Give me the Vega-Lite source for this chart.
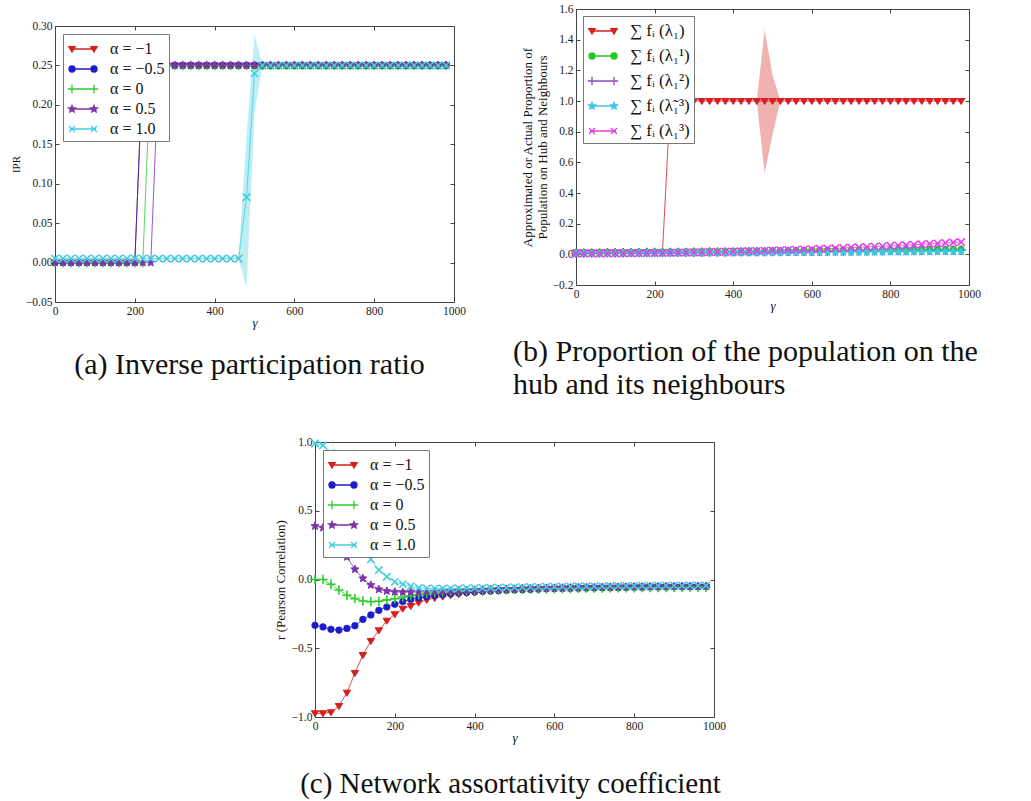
{
"$schema": "https://vega.github.io/schema/vega-lite/v6.json",
"background": "white",
"padding": {"left": 9, "top": 2, "right": 0, "bottom": 0},
"config": {
  "view": {"stroke": "#444", "strokeWidth": 1},
  "font": "Liberation Serif",
  "axis": {"grid": false, "domain": false, "tickSize": -4, "tickColor": "#444", "tickWidth": 1, "labelPadding": 7, "labelFont": "Liberation Serif", "labelFontSize": 11.5, "labelColor": "#222", "labelFlush": false, "labelOverlap": false, "titleFont": "Liberation Serif", "titleFontWeight": "normal", "titleColor": "#111", "titleFontSize": 12},
  "legend": {"strokeColor": "#777", "fillColor": "white", "padding": 4, "cornerRadius": 0, "labelFont": "Liberation Serif, DejaVu Serif", "labelFontSize": 16, "labelColor": "#111", "symbolSize": 400, "symbolOffset": 5, "labelOffset": 16, "rowPadding": 1, "orient": "top-left", "offset": 8, "direction": "vertical", "symbolOpacity": 1, "symbolStrokeWidth": 1.3},
  "title": {"font": "Liberation Serif", "fontSize": 30, "fontWeight": "normal", "color": "#111"}
},
"datasets": {
  "bandA": [{"g":460,"lo":0.005,"hi":0.005},{"g":480,"lo":-0.032,"hi":0.16},{"g":500,"lo":0.19,"hi":0.289},{"g":520,"lo":0.25,"hi":0.25}],
  "bandB": [{"g":460,"lo":1,"hi":1},{"g":480,"lo":0.53,"hi":1.464},{"g":500,"lo":0.78,"hi":1.17},{"g":520,"lo":1,"hi":1}],
  "ipr": [
    {"g":0,"s1":0,"s2":0,"s3":0,"s4":0,"s5":0.005},
    {"g":20,"s1":0,"s2":0,"s3":0,"s4":0,"s5":0.005},
    {"g":40,"s1":0,"s2":0,"s3":0,"s4":0,"s5":0.005},
    {"g":60,"s1":0,"s2":0,"s3":0,"s4":0,"s5":0.005},
    {"g":80,"s1":0,"s2":0,"s3":0,"s4":0,"s5":0.005},
    {"g":100,"s1":0,"s2":0,"s3":0,"s4":0,"s5":0.005},
    {"g":120,"s1":0,"s2":0,"s3":0,"s4":0,"s5":0.005},
    {"g":140,"s1":0,"s2":0,"s3":0,"s4":0,"s5":0.005},
    {"g":160,"s1":0,"s2":0,"s3":0,"s4":0,"s5":0.005},
    {"g":180,"s1":0,"s2":0,"s3":0,"s4":0,"s5":0.005},
    {"g":200,"s1":0,"s2":0,"s3":0,"s4":0,"s5":0.005},
    {"g":220,"s1":0.25,"s2":0.25,"s3":0,"s4":0,"s5":0.005},
    {"g":240,"s1":0.25,"s2":0.25,"s3":0.25,"s4":0,"s5":0.005},
    {"g":260,"s1":0.25,"s2":0.25,"s3":0.25,"s4":0.25,"s5":0.005},
    {"g":280,"s1":0.25,"s2":0.25,"s3":0.25,"s4":0.25,"s5":0.005},
    {"g":300,"s1":0.25,"s2":0.25,"s3":0.25,"s4":0.25,"s5":0.005},
    {"g":320,"s1":0.25,"s2":0.25,"s3":0.25,"s4":0.25,"s5":0.005},
    {"g":340,"s1":0.25,"s2":0.25,"s3":0.25,"s4":0.25,"s5":0.005},
    {"g":360,"s1":0.25,"s2":0.25,"s3":0.25,"s4":0.25,"s5":0.005},
    {"g":380,"s1":0.25,"s2":0.25,"s3":0.25,"s4":0.25,"s5":0.005},
    {"g":400,"s1":0.25,"s2":0.25,"s3":0.25,"s4":0.25,"s5":0.005},
    {"g":420,"s1":0.25,"s2":0.25,"s3":0.25,"s4":0.25,"s5":0.005},
    {"g":440,"s1":0.25,"s2":0.25,"s3":0.25,"s4":0.25,"s5":0.005},
    {"g":460,"s1":0.25,"s2":0.25,"s3":0.25,"s4":0.25,"s5":0.005},
    {"g":480,"s1":0.25,"s2":0.25,"s3":0.25,"s4":0.25,"s5":0.083},
    {"g":500,"s1":0.25,"s2":0.25,"s3":0.25,"s4":0.25,"s5":0.24},
    {"g":520,"s1":0.25,"s2":0.25,"s3":0.25,"s4":0.25,"s5":0.25},
    {"g":540,"s1":0.25,"s2":0.25,"s3":0.25,"s4":0.25,"s5":0.25},
    {"g":560,"s1":0.25,"s2":0.25,"s3":0.25,"s4":0.25,"s5":0.25},
    {"g":580,"s1":0.25,"s2":0.25,"s3":0.25,"s4":0.25,"s5":0.25},
    {"g":600,"s1":0.25,"s2":0.25,"s3":0.25,"s4":0.25,"s5":0.25},
    {"g":620,"s1":0.25,"s2":0.25,"s3":0.25,"s4":0.25,"s5":0.25},
    {"g":640,"s1":0.25,"s2":0.25,"s3":0.25,"s4":0.25,"s5":0.25},
    {"g":660,"s1":0.25,"s2":0.25,"s3":0.25,"s4":0.25,"s5":0.25},
    {"g":680,"s1":0.25,"s2":0.25,"s3":0.25,"s4":0.25,"s5":0.25},
    {"g":700,"s1":0.25,"s2":0.25,"s3":0.25,"s4":0.25,"s5":0.25},
    {"g":720,"s1":0.25,"s2":0.25,"s3":0.25,"s4":0.25,"s5":0.25},
    {"g":740,"s1":0.25,"s2":0.25,"s3":0.25,"s4":0.25,"s5":0.25},
    {"g":760,"s1":0.25,"s2":0.25,"s3":0.25,"s4":0.25,"s5":0.25},
    {"g":780,"s1":0.25,"s2":0.25,"s3":0.25,"s4":0.25,"s5":0.25},
    {"g":800,"s1":0.25,"s2":0.25,"s3":0.25,"s4":0.25,"s5":0.25},
    {"g":820,"s1":0.25,"s2":0.25,"s3":0.25,"s4":0.25,"s5":0.25},
    {"g":840,"s1":0.25,"s2":0.25,"s3":0.25,"s4":0.25,"s5":0.25},
    {"g":860,"s1":0.25,"s2":0.25,"s3":0.25,"s4":0.25,"s5":0.25},
    {"g":880,"s1":0.25,"s2":0.25,"s3":0.25,"s4":0.25,"s5":0.25},
    {"g":900,"s1":0.25,"s2":0.25,"s3":0.25,"s4":0.25,"s5":0.25},
    {"g":920,"s1":0.25,"s2":0.25,"s3":0.25,"s4":0.25,"s5":0.25},
    {"g":940,"s1":0.25,"s2":0.25,"s3":0.25,"s4":0.25,"s5":0.25},
    {"g":960,"s1":0.25,"s2":0.25,"s3":0.25,"s4":0.25,"s5":0.25},
    {"g":980,"s1":0.25,"s2":0.25,"s3":0.25,"s4":0.25,"s5":0.25}
  ],
  "prop": [
    {"g":0,"s1":0.012,"s2":0.010,"s3":0.008,"s4":0.005,"s5":0.006},
    {"g":20,"s1":0.012,"s2":0.010,"s3":0.008,"s4":0.005,"s5":0.006},
    {"g":40,"s1":0.012,"s2":0.011,"s3":0.009,"s4":0.006,"s5":0.006},
    {"g":60,"s1":0.012,"s2":0.011,"s3":0.009,"s4":0.006,"s5":0.006},
    {"g":80,"s1":0.012,"s2":0.012,"s3":0.010,"s4":0.006,"s5":0.0065},
    {"g":100,"s1":0.012,"s2":0.012,"s3":0.010,"s4":0.006,"s5":0.0068},
    {"g":120,"s1":0.012,"s2":0.013,"s3":0.010,"s4":0.007,"s5":0.0071},
    {"g":140,"s1":0.012,"s2":0.013,"s3":0.011,"s4":0.007,"s5":0.0075},
    {"g":160,"s1":0.012,"s2":0.014,"s3":0.011,"s4":0.007,"s5":0.008},
    {"g":180,"s1":0.012,"s2":0.014,"s3":0.012,"s4":0.007,"s5":0.0085},
    {"g":200,"s1":0.012,"s2":0.015,"s3":0.012,"s4":0.008,"s5":0.0091},
    {"g":220,"s1":0.012,"s2":0.015,"s3":0.012,"s4":0.008,"s5":0.0097},
    {"g":240,"s1":1.0,"s2":0.016,"s3":0.013,"s4":0.008,"s5":0.0104},
    {"g":260,"s1":1.0,"s2":0.016,"s3":0.013,"s4":0.009,"s5":0.0112},
    {"g":280,"s1":1.0,"s2":0.017,"s3":0.013,"s4":0.009,"s5":0.012},
    {"g":300,"s1":1.0,"s2":0.017,"s3":0.014,"s4":0.009,"s5":0.0129},
    {"g":320,"s1":1.0,"s2":0.018,"s3":0.014,"s4":0.009,"s5":0.0139},
    {"g":340,"s1":1.0,"s2":0.018,"s3":0.015,"s4":0.010,"s5":0.0149},
    {"g":360,"s1":1.0,"s2":0.018,"s3":0.015,"s4":0.010,"s5":0.016},
    {"g":380,"s1":1.0,"s2":0.019,"s3":0.015,"s4":0.010,"s5":0.0171},
    {"g":400,"s1":1.0,"s2":0.019,"s3":0.016,"s4":0.010,"s5":0.0183},
    {"g":420,"s1":1.0,"s2":0.020,"s3":0.016,"s4":0.011,"s5":0.0196},
    {"g":440,"s1":1.0,"s2":0.020,"s3":0.017,"s4":0.011,"s5":0.0209},
    {"g":460,"s1":1.0,"s2":0.021,"s3":0.017,"s4":0.011,"s5":0.0223},
    {"g":480,"s1":1.0,"s2":0.021,"s3":0.017,"s4":0.011,"s5":0.0238},
    {"g":500,"s1":1.0,"s2":0.022,"s3":0.018,"s4":0.012,"s5":0.0253},
    {"g":520,"s1":1.0,"s2":0.022,"s3":0.018,"s4":0.012,"s5":0.0268},
    {"g":540,"s1":1.0,"s2":0.023,"s3":0.019,"s4":0.012,"s5":0.0285},
    {"g":560,"s1":1.0,"s2":0.023,"s3":0.019,"s4":0.013,"s5":0.0302},
    {"g":580,"s1":1.0,"s2":0.024,"s3":0.019,"s4":0.013,"s5":0.0319},
    {"g":600,"s1":1.0,"s2":0.024,"s3":0.020,"s4":0.013,"s5":0.0337},
    {"g":620,"s1":1.0,"s2":0.025,"s3":0.020,"s4":0.013,"s5":0.0356},
    {"g":640,"s1":1.0,"s2":0.025,"s3":0.020,"s4":0.014,"s5":0.0376},
    {"g":660,"s1":1.0,"s2":0.026,"s3":0.021,"s4":0.014,"s5":0.0396},
    {"g":680,"s1":1.0,"s2":0.026,"s3":0.021,"s4":0.014,"s5":0.0416},
    {"g":700,"s1":1.0,"s2":0.026,"s3":0.022,"s4":0.014,"s5":0.0438},
    {"g":720,"s1":1.0,"s2":0.027,"s3":0.022,"s4":0.015,"s5":0.0459},
    {"g":740,"s1":1.0,"s2":0.027,"s3":0.022,"s4":0.015,"s5":0.0482},
    {"g":760,"s1":1.0,"s2":0.028,"s3":0.023,"s4":0.015,"s5":0.0505},
    {"g":780,"s1":1.0,"s2":0.028,"s3":0.023,"s4":0.016,"s5":0.0529},
    {"g":800,"s1":1.0,"s2":0.029,"s3":0.024,"s4":0.016,"s5":0.0553},
    {"g":820,"s1":1.0,"s2":0.029,"s3":0.024,"s4":0.016,"s5":0.0578},
    {"g":840,"s1":1.0,"s2":0.030,"s3":0.024,"s4":0.016,"s5":0.0604},
    {"g":860,"s1":1.0,"s2":0.030,"s3":0.025,"s4":0.017,"s5":0.063},
    {"g":880,"s1":1.0,"s2":0.031,"s3":0.025,"s4":0.017,"s5":0.0657},
    {"g":900,"s1":1.0,"s2":0.031,"s3":0.026,"s4":0.017,"s5":0.0684},
    {"g":920,"s1":1.0,"s2":0.032,"s3":0.026,"s4":0.017,"s5":0.0712},
    {"g":940,"s1":1.0,"s2":0.032,"s3":0.026,"s4":0.018,"s5":0.0741},
    {"g":960,"s1":1.0,"s2":0.033,"s3":0.027,"s4":0.018,"s5":0.077},
    {"g":980,"s1":1.0,"s2":0.033,"s3":0.027,"s4":0.018,"s5":0.08}
  ],
  "assort": [
    {"g":0,"s1":-0.973,"s2":-0.333,"s3":0,"s4":0.389,"s5":0.99},
    {"g":20,"s1":-0.973,"s2":-0.345,"s3":0,"s4":0.377,"s5":0.976},
    {"g":40,"s1":-0.966,"s2":-0.362,"s3":-0.035,"s4":0.33,"s5":0.92},
    {"g":60,"s1":-0.92,"s2":-0.368,"s3":-0.076,"s4":0.26,"s5":0.8},
    {"g":80,"s1":-0.823,"s2":-0.356,"s3":-0.115,"s4":0.164,"s5":0.62},
    {"g":100,"s1":-0.68,"s2":-0.336,"s3":-0.139,"s4":0.074,"s5":0.43},
    {"g":120,"s1":-0.55,"s2":-0.29,"s3":-0.156,"s4":0.008,"s5":0.27},
    {"g":140,"s1":-0.447,"s2":-0.258,"s3":-0.161,"s4":-0.04,"s5":0.147},
    {"g":160,"s1":-0.37,"s2":-0.224,"s3":-0.158,"s4":-0.072,"s5":0.069},
    {"g":180,"s1":-0.3,"s2":-0.2,"s3":-0.148,"s4":-0.084,"s5":0.02},
    {"g":200,"s1":-0.253,"s2":-0.18,"s3":-0.14,"s4":-0.09,"s5":-0.018},
    {"g":220,"s1":-0.212,"s2":-0.16,"s3":-0.128,"s4":-0.092,"s5":-0.035},
    {"g":240,"s1":-0.193,"s2":-0.145,"s3":-0.118,"s4":-0.092,"s5":-0.05},
    {"g":260,"s1":-0.168,"s2":-0.133,"s3":-0.11,"s4":-0.091,"s5":-0.06},
    {"g":280,"s1":-0.148,"s2":-0.124,"s3":-0.103,"s4":-0.09,"s5":-0.065},
    {"g":300,"s1":-0.135,"s2":-0.116,"s3":-0.097,"s4":-0.088,"s5":-0.066},
    {"g":320,"s1":-0.124,"s2":-0.109,"s3":-0.092,"s4":-0.086,"s5":-0.066},
    {"g":340,"s1":-0.115,"s2":-0.103,"s3":-0.088,"s4":-0.084,"s5":-0.065},
    {"g":360,"s1":-0.107,"s2":-0.098,"s3":-0.085,"s4":-0.082,"s5":-0.064},
    {"g":380,"s1":-0.1,"s2":-0.094,"s3":-0.082,"s4":-0.08,"s5":-0.063},
    {"g":400,"s1":-0.095,"s2":-0.09,"s3":-0.08,"s4":-0.078,"s5":-0.062},
    {"g":420,"s1":-0.09,"s2":-0.087,"s3":-0.078,"s4":-0.076,"s5":-0.061},
    {"g":440,"s1":-0.086,"s2":-0.084,"s3":-0.076,"s4":-0.074,"s5":-0.06},
    {"g":460,"s1":-0.082,"s2":-0.081,"s3":-0.074,"s4":-0.072,"s5":-0.059},
    {"g":480,"s1":-0.079,"s2":-0.078,"s3":-0.073,"s4":-0.07,"s5":-0.058},
    {"g":500,"s1":-0.076,"s2":-0.076,"s3":-0.072,"s4":-0.069,"s5":-0.057},
    {"g":520,"s1":-0.074,"s2":-0.074,"s3":-0.071,"s4":-0.067,"s5":-0.056},
    {"g":540,"s1":-0.072,"s2":-0.072,"s3":-0.07,"s4":-0.066,"s5":-0.055},
    {"g":560,"s1":-0.07,"s2":-0.07,"s3":-0.069,"s4":-0.064,"s5":-0.054},
    {"g":580,"s1":-0.068,"s2":-0.068,"s3":-0.068,"s4":-0.063,"s5":-0.053},
    {"g":600,"s1":-0.066,"s2":-0.066,"s3":-0.067,"s4":-0.062,"s5":-0.052},
    {"g":620,"s1":-0.065,"s2":-0.065,"s3":-0.066,"s4":-0.061,"s5":-0.051},
    {"g":640,"s1":-0.064,"s2":-0.064,"s3":-0.065,"s4":-0.06,"s5":-0.051},
    {"g":660,"s1":-0.063,"s2":-0.063,"s3":-0.064,"s4":-0.059,"s5":-0.05},
    {"g":680,"s1":-0.062,"s2":-0.062,"s3":-0.063,"s4":-0.058,"s5":-0.05},
    {"g":700,"s1":-0.061,"s2":-0.061,"s3":-0.063,"s4":-0.057,"s5":-0.049},
    {"g":720,"s1":-0.06,"s2":-0.06,"s3":-0.062,"s4":-0.056,"s5":-0.049},
    {"g":740,"s1":-0.059,"s2":-0.059,"s3":-0.061,"s4":-0.055,"s5":-0.048},
    {"g":760,"s1":-0.058,"s2":-0.058,"s3":-0.061,"s4":-0.055,"s5":-0.048},
    {"g":780,"s1":-0.057,"s2":-0.057,"s3":-0.06,"s4":-0.054,"s5":-0.047},
    {"g":800,"s1":-0.057,"s2":-0.056,"s3":-0.06,"s4":-0.053,"s5":-0.047},
    {"g":820,"s1":-0.056,"s2":-0.056,"s3":-0.059,"s4":-0.053,"s5":-0.046},
    {"g":840,"s1":-0.055,"s2":-0.055,"s3":-0.059,"s4":-0.052,"s5":-0.046},
    {"g":860,"s1":-0.055,"s2":-0.054,"s3":-0.058,"s4":-0.052,"s5":-0.046},
    {"g":880,"s1":-0.054,"s2":-0.054,"s3":-0.058,"s4":-0.051,"s5":-0.045},
    {"g":900,"s1":-0.054,"s2":-0.053,"s3":-0.057,"s4":-0.051,"s5":-0.045},
    {"g":920,"s1":-0.053,"s2":-0.053,"s3":-0.057,"s4":-0.05,"s5":-0.045},
    {"g":940,"s1":-0.053,"s2":-0.052,"s3":-0.057,"s4":-0.05,"s5":-0.044},
    {"g":960,"s1":-0.052,"s2":-0.052,"s3":-0.056,"s4":-0.05,"s5":-0.044},
    {"g":980,"s1":-0.052,"s2":-0.051,"s3":-0.056,"s4":-0.049,"s5":-0.044}
  ]
},
"spacing": 35,
"resolve": {"scale": {"color": "independent", "fill": "independent", "stroke": "independent", "shape": "independent"}, "legend": {"color": "independent", "fill": "independent", "stroke": "independent", "shape": "independent"}},
"vconcat": [
  {
    "spacing": 46,
    "resolve": {"scale": {"color": "independent", "fill": "independent", "stroke": "independent", "shape": "independent"}, "legend": {"color": "independent", "fill": "independent", "stroke": "independent", "shape": "independent"}},
    "hconcat": [
      {
        "spacing": 0,
        "resolve": {"scale": {"color": "independent", "fill": "independent", "stroke": "independent", "shape": "independent"}, "legend": {"color": "independent", "fill": "independent", "stroke": "independent", "shape": "independent"}},
        "vconcat": [
          {"width": 10, "height": 10, "data": {"values": []}, "mark": "point", "view": {"stroke": null}},
          {
            "width": 399, "height": 276,
            "title": {"text": "(a) Inverse participation ratio", "orient": "bottom", "anchor": "middle", "offset": 20, "dx": -5},
            "resolve": {"axis": {"x": "independent", "y": "independent"}},
            "layer": [
              {
                "data": {"name": "bandA"},
                "mark": {"type": "area", "color": "#40cfe0", "opacity": 0.35},
                "encoding": {
                  "x": {"field": "g", "type": "quantitative", "scale": {"domain": [0, 1000], "nice": false, "zero": false}, "axis": null},
                  "y": {"field": "lo", "type": "quantitative", "scale": {"domain": [-0.05, 0.3], "nice": false, "zero": false}, "axis": null},
                  "y2": {"field": "hi"}
                }
              },
              {
                "data": {"name": "ipr"},
                "transform": [{"fold": ["s1", "s2", "s3", "s4", "s5"], "as": ["series", "value"]}],
                "mark": {"type": "line", "strokeWidth": 1, "opacity": 0.8},
                "encoding": {
                  "x": {"field": "g", "type": "quantitative", "scale": {"domain": [0, 1000], "nice": false, "zero": false}, "axis": {"values": [0, 200, 400, 600, 800, 1000], "format": "d", "title": "γ", "titleFontStyle": "italic", "titleFontSize": 13, "titlePadding": 0}},
                  "y": {"field": "value", "type": "quantitative", "scale": {"domain": [-0.05, 0.3], "nice": false, "zero": false}, "axis": {"values": [-0.05, 0, 0.05, 0.1, 0.15, 0.2, 0.25, 0.3], "format": ".2f", "title": "IPR", "titleFontSize": 11}},
                  "color": {
                    "field": "series", "type": "nominal",
                    "scale": {"domain": ["s1", "s2", "s3", "s4", "s5"], "range": ["#d42020", "#1c1ccc", "#2fcc2f", "#7d35a8", "#40cfe0"]},
                    "legend": {"title": null, "labelExpr": "datum.value==='s1'?'α = −1':datum.value==='s2'?'α = −0.5':datum.value==='s3'?'α = 0':datum.value==='s4'?'α = 0.5':'α = 1.0'"}
                  }
                }
              },
              {
                "data": {"name": "ipr"},
                "transform": [{"fold": ["s1", "s2", "s3", "s4", "s5"], "as": ["series", "value"]}],
                "mark": {"type": "point", "opacity": 0},
                "encoding": {
                  "x": {"field": "g", "type": "quantitative", "scale": {"domain": [0, 1000], "nice": false, "zero": false}, "axis": {"orient": "top", "values": [0, 200, 400, 600, 800, 1000], "labels": false, "title": null}},
                  "y": {"field": "value", "type": "quantitative", "scale": {"domain": [-0.05, 0.3], "nice": false, "zero": false}, "axis": {"orient": "right", "values": [-0.05, 0, 0.05, 0.1, 0.15, 0.2, 0.25, 0.3], "labels": false, "title": null}},
                  "fill": {"field": "series", "type": "nominal", "scale": {"domain": ["s1", "s2", "s3", "s4", "s5"], "range": ["#d42020", "#1c1ccc", "#2fcc2f", "#7d35a8", "#40cfe0"]}, "legend": null},
                  "shape": {"field": "series", "type": "nominal", "scale": {"domain": ["s1", "s2", "s3", "s4", "s5"], "range": [
                    "M-1.3,0L1.3,0M-1.42,-0.24L-0.78,-0.24L-1.1,0.3ZM0.78,-0.24L1.42,-0.24L1.1,0.3Z",
                    "M-1.3,0L1.3,0M-1.4,0A0.3,0.3,0,1,0,-0.8,0A0.3,0.3,0,1,0,-1.4,0ZM0.8,0A0.3,0.3,0,1,0,1.4,0A0.3,0.3,0,1,0,0.8,0Z",
                    "M-1.3,0L1.3,0M-1.52,0L-0.68,0M-1.1,-0.42L-1.1,0.42M0.68,0L1.52,0M1.1,-0.42L1.1,0.42",
                    "M-1.3,0L1.3,0M-1.1,-0.36L-1.005,-0.131L-0.758,-0.111L-0.946,0.05L-0.888,0.291L-1.1,0.162L-1.312,0.291L-1.254,0.05L-1.442,-0.111L-1.195,-0.131ZM1.1,-0.36L1.195,-0.131L1.442,-0.111L1.254,0.05L1.312,0.291L1.1,0.162L0.888,0.291L0.946,0.05L0.758,-0.111L1.005,-0.131Z",
                    "M-1.3,0L1.3,0M-1.4,-0.3L-0.8,0.3M-1.4,0.3L-0.8,-0.3M0.8,-0.3L1.4,0.3M0.8,0.3L1.4,-0.3"]}, "legend": null}
                }
              },
              {"data": {"name": "ipr"}, "mark": {"type": "point", "shape": "M-1.1,-0.75L1.1,-0.75L0,1.05Z", "size": 45, "fill": "#d42020", "stroke": "#d42020", "strokeWidth": 1, "opacity": 1},
               "encoding": {"x": {"field": "g", "type": "quantitative", "scale": {"domain": [0, 1000], "nice": false, "zero": false}, "axis": null}, "y": {"field": "s1", "type": "quantitative", "scale": {"domain": [-0.05, 0.3], "nice": false, "zero": false}, "axis": null}}},
              {"data": {"name": "ipr"}, "mark": {"type": "point", "shape": "circle", "size": 45, "fill": "#1c1ccc", "stroke": "#1c1ccc", "strokeWidth": 0.5, "opacity": 1},
               "encoding": {"x": {"field": "g", "type": "quantitative", "scale": {"domain": [0, 1000], "nice": false, "zero": false}, "axis": null}, "y": {"field": "s2", "type": "quantitative", "scale": {"domain": [-0.05, 0.3], "nice": false, "zero": false}, "axis": null}}},
              {"data": {"name": "ipr"}, "mark": {"type": "point", "shape": "M-1.4,0L1.4,0M0,-1.4L0,1.4", "size": 45, "fill": "#2fcc2f", "stroke": "#2fcc2f", "strokeWidth": 1.6, "opacity": 1},
               "encoding": {"x": {"field": "g", "type": "quantitative", "scale": {"domain": [0, 1000], "nice": false, "zero": false}, "axis": null}, "y": {"field": "s3", "type": "quantitative", "scale": {"domain": [-0.05, 0.3], "nice": false, "zero": false}, "axis": null}}},
              {"data": {"name": "ipr"}, "mark": {"type": "point", "shape": "M0,-1.25L0.331,-0.455L1.189,-0.386L0.535,0.174L0.735,1.011L0,0.563L-0.735,1.011L-0.535,0.174L-1.189,-0.386L-0.331,-0.455Z", "size": 45, "fill": "#7d35a8", "stroke": "#7d35a8", "strokeWidth": 1, "opacity": 1},
               "encoding": {"x": {"field": "g", "type": "quantitative", "scale": {"domain": [0, 1000], "nice": false, "zero": false}, "axis": null}, "y": {"field": "s4", "type": "quantitative", "scale": {"domain": [-0.05, 0.3], "nice": false, "zero": false}, "axis": null}}},
              {"data": {"name": "ipr"}, "mark": {"type": "point", "shape": "M-1.1,-1.1L1.1,1.1M-1.1,1.1L1.1,-1.1", "size": 45, "fill": "#40cfe0", "stroke": "#40cfe0", "strokeWidth": 1.6, "opacity": 1},
               "encoding": {"x": {"field": "g", "type": "quantitative", "scale": {"domain": [0, 1000], "nice": false, "zero": false}, "axis": null}, "y": {"field": "s5", "type": "quantitative", "scale": {"domain": [-0.05, 0.3], "nice": false, "zero": false}, "axis": null}}}
            ]
          }
        ]
      },
      {
        "width": 393, "height": 276,
        "title": {"text": ["(b) Proportion of the population on the", "hub and its neighbours"], "orient": "bottom", "anchor": "start", "frame": "group", "dx": -63, "lineHeight": 33, "offset": 24},
        "resolve": {"axis": {"x": "independent", "y": "independent"}},
        "layer": [
          {
            "data": {"name": "bandB"},
            "mark": {"type": "area", "color": "#d42020", "opacity": 0.35},
            "encoding": {
              "x": {"field": "g", "type": "quantitative", "scale": {"domain": [0, 1000], "nice": false, "zero": false}, "axis": null},
              "y": {"field": "lo", "type": "quantitative", "scale": {"domain": [-0.2, 1.6], "nice": false, "zero": false}, "axis": null},
              "y2": {"field": "hi"}
            }
          },
          {
            "data": {"name": "prop"},
            "transform": [{"fold": ["s1", "s2", "s3", "s4", "s5"], "as": ["series", "value"]}],
            "mark": {"type": "line", "strokeWidth": 1, "opacity": 0.8},
            "encoding": {
              "x": {"field": "g", "type": "quantitative", "scale": {"domain": [0, 1000], "nice": false, "zero": false}, "axis": {"values": [0, 200, 400, 600, 800, 1000], "format": "d", "title": "γ", "titleFontStyle": "italic", "titleFontSize": 13, "titlePadding": 0}},
              "y": {"field": "value", "type": "quantitative", "scale": {"domain": [-0.2, 1.6], "nice": false, "zero": false}, "axis": {"values": [-0.2, 0, 0.2, 0.4, 0.6, 0.8, 1, 1.2, 1.4, 1.6], "format": ".1f", "title": ["Approximated or Actual Proportion of", "Population on Hub and Neighbours"], "titleFontSize": 13, "titleLineHeight": 15, "titlePadding": 3}},
              "color": {
                "field": "series", "type": "nominal",
                "scale": {"domain": ["s1", "s2", "s3", "s4", "s5"], "range": ["#d42020", "#22c822", "#8a4cc0", "#3cc8e0", "#e040e6"]},
                "legend": {"title": null, "labelFontSize": 17, "rowPadding": 6, "offset": 7, "labelExpr": "datum.value==='s1'?'∑ fᵢ (λ₁)':datum.value==='s2'?'∑ fᵢ (λ₁¹)':datum.value==='s3'?'∑ fᵢ (λ₁²)':datum.value==='s4'?'∑ fᵢ (λ̃₁³)':'∑ fᵢ (λ₁³)'"}
              }
            }
          },
          {
            "data": {"name": "prop"},
            "transform": [{"fold": ["s1", "s2", "s3", "s4", "s5"], "as": ["series", "value"]}],
            "mark": {"type": "point", "opacity": 0},
            "encoding": {
              "x": {"field": "g", "type": "quantitative", "scale": {"domain": [0, 1000], "nice": false, "zero": false}, "axis": {"orient": "top", "values": [0, 200, 400, 600, 800, 1000], "labels": false, "title": null}},
              "y": {"field": "value", "type": "quantitative", "scale": {"domain": [-0.2, 1.6], "nice": false, "zero": false}, "axis": {"orient": "right", "values": [-0.2, 0, 0.2, 0.4, 0.6, 0.8, 1, 1.2, 1.4, 1.6], "labels": false, "title": null}},
              "fill": {"field": "series", "type": "nominal", "scale": {"domain": ["s1", "s2", "s3", "s4", "s5"], "range": ["#d42020", "#22c822", "#8a4cc0", "#3cc8e0", "#e040e6"]}, "legend": null},
              "shape": {"field": "series", "type": "nominal", "scale": {"domain": ["s1", "s2", "s3", "s4", "s5"], "range": [
                "M-1.3,0L1.3,0M-1.42,-0.24L-0.78,-0.24L-1.1,0.3ZM0.78,-0.24L1.42,-0.24L1.1,0.3Z",
                "M-1.3,0L1.3,0M-1.4,0A0.3,0.3,0,1,0,-0.8,0A0.3,0.3,0,1,0,-1.4,0ZM0.8,0A0.3,0.3,0,1,0,1.4,0A0.3,0.3,0,1,0,0.8,0Z",
                "M-1.3,0L1.3,0M-1.52,0L-0.68,0M-1.1,-0.42L-1.1,0.42M0.68,0L1.52,0M1.1,-0.42L1.1,0.42",
                "M-1.3,0L1.3,0M-1.1,-0.36L-1.005,-0.131L-0.758,-0.111L-0.946,0.05L-0.888,0.291L-1.1,0.162L-1.312,0.291L-1.254,0.05L-1.442,-0.111L-1.195,-0.131ZM1.1,-0.36L1.195,-0.131L1.442,-0.111L1.254,0.05L1.312,0.291L1.1,0.162L0.888,0.291L0.946,0.05L0.758,-0.111L1.005,-0.131Z",
                "M-1.3,0L1.3,0M-1.4,-0.3L-0.8,0.3M-1.4,0.3L-0.8,-0.3M0.8,-0.3L1.4,0.3M0.8,0.3L1.4,-0.3"]}, "legend": null}
            }
          },
          {"data": {"name": "prop"}, "mark": {"type": "point", "shape": "M-1.1,-0.75L1.1,-0.75L0,1.05Z", "size": 45, "fill": "#d42020", "stroke": "#d42020", "strokeWidth": 1, "opacity": 1},
           "encoding": {"x": {"field": "g", "type": "quantitative", "scale": {"domain": [0, 1000], "nice": false, "zero": false}, "axis": null}, "y": {"field": "s1", "type": "quantitative", "scale": {"domain": [-0.2, 1.6], "nice": false, "zero": false}, "axis": null}}},
          {"data": {"name": "prop"}, "mark": {"type": "point", "shape": "circle", "size": 45, "fill": "#22c822", "stroke": "#22c822", "strokeWidth": 0.5, "opacity": 1},
           "encoding": {"x": {"field": "g", "type": "quantitative", "scale": {"domain": [0, 1000], "nice": false, "zero": false}, "axis": null}, "y": {"field": "s2", "type": "quantitative", "scale": {"domain": [-0.2, 1.6], "nice": false, "zero": false}, "axis": null}}},
          {"data": {"name": "prop"}, "mark": {"type": "point", "shape": "M-1.4,0L1.4,0M0,-1.4L0,1.4", "size": 45, "fill": "#8a4cc0", "stroke": "#8a4cc0", "strokeWidth": 1.6, "opacity": 1},
           "encoding": {"x": {"field": "g", "type": "quantitative", "scale": {"domain": [0, 1000], "nice": false, "zero": false}, "axis": null}, "y": {"field": "s3", "type": "quantitative", "scale": {"domain": [-0.2, 1.6], "nice": false, "zero": false}, "axis": null}}},
          {"data": {"name": "prop"}, "mark": {"type": "point", "shape": "M0,-1.25L0.331,-0.455L1.189,-0.386L0.535,0.174L0.735,1.011L0,0.563L-0.735,1.011L-0.535,0.174L-1.189,-0.386L-0.331,-0.455Z", "size": 45, "fill": "#3cc8e0", "stroke": "#3cc8e0", "strokeWidth": 1, "opacity": 1},
           "encoding": {"x": {"field": "g", "type": "quantitative", "scale": {"domain": [0, 1000], "nice": false, "zero": false}, "axis": null}, "y": {"field": "s4", "type": "quantitative", "scale": {"domain": [-0.2, 1.6], "nice": false, "zero": false}, "axis": null}}},
          {"data": {"name": "prop"}, "mark": {"type": "point", "shape": "M-1.1,-1.1L1.1,1.1M-1.1,1.1L1.1,-1.1", "size": 45, "fill": "#e040e6", "stroke": "#e040e6", "strokeWidth": 1.6, "opacity": 1},
           "encoding": {"x": {"field": "g", "type": "quantitative", "scale": {"domain": [0, 1000], "nice": false, "zero": false}, "axis": null}, "y": {"field": "s5", "type": "quantitative", "scale": {"domain": [-0.2, 1.6], "nice": false, "zero": false}, "axis": null}}}
        ]
      }
    ]
  },
  {
    "spacing": 0,
    "resolve": {"scale": {"color": "independent", "fill": "independent", "stroke": "independent", "shape": "independent"}, "legend": {"color": "independent", "fill": "independent", "stroke": "independent", "shape": "independent"}},
    "hconcat": [
      {"width": 218, "height": 10, "data": {"values": []}, "mark": "point", "view": {"stroke": null}},
      {
        "width": 399, "height": 275,
        "title": {"text": "(c) Network assortativity coefficient", "orient": "bottom", "anchor": "middle", "offset": 25, "dx": -4, "fontSize": 29},
        "resolve": {"axis": {"x": "independent", "y": "independent"}},
        "layer": [
          {
            "data": {"name": "assort"},
            "transform": [{"fold": ["s1", "s2", "s3", "s4", "s5"], "as": ["series", "value"]}],
            "mark": {"type": "line", "strokeWidth": 1, "opacity": 0.8},
            "encoding": {
              "x": {"field": "g", "type": "quantitative", "scale": {"domain": [0, 1000], "nice": false, "zero": false}, "axis": {"values": [0, 200, 400, 600, 800, 1000], "format": "d", "title": "γ", "titleFontStyle": "italic", "titleFontSize": 13, "titlePadding": 0}},
              "y": {"field": "value", "type": "quantitative", "scale": {"domain": [-1, 1], "nice": false, "zero": false}, "axis": {"values": [-1, -0.5, 0, 0.5, 1], "format": ".1f", "title": "r (Pearson Correlation)", "titleFontSize": 13}},
              "color": {
                "field": "series", "type": "nominal",
                "scale": {"domain": ["s1", "s2", "s3", "s4", "s5"], "range": ["#d42020", "#1c1ccc", "#2fcc2f", "#7d35a8", "#40cfe0"]},
                "legend": {"title": null, "labelExpr": "datum.value==='s1'?'α = −1':datum.value==='s2'?'α = −0.5':datum.value==='s3'?'α = 0':datum.value==='s4'?'α = 0.5':'α = 1.0'"}
              }
            }
          },
          {
            "data": {"name": "assort"},
            "transform": [{"fold": ["s1", "s2", "s3", "s4", "s5"], "as": ["series", "value"]}],
            "mark": {"type": "point", "opacity": 0},
            "encoding": {
              "x": {"field": "g", "type": "quantitative", "scale": {"domain": [0, 1000], "nice": false, "zero": false}, "axis": {"orient": "top", "values": [0, 200, 400, 600, 800, 1000], "labels": false, "title": null}},
              "y": {"field": "value", "type": "quantitative", "scale": {"domain": [-1, 1], "nice": false, "zero": false}, "axis": {"orient": "right", "values": [-1, -0.5, 0, 0.5, 1], "labels": false, "title": null}},
              "fill": {"field": "series", "type": "nominal", "scale": {"domain": ["s1", "s2", "s3", "s4", "s5"], "range": ["#d42020", "#1c1ccc", "#2fcc2f", "#7d35a8", "#40cfe0"]}, "legend": null},
              "shape": {"field": "series", "type": "nominal", "scale": {"domain": ["s1", "s2", "s3", "s4", "s5"], "range": [
                "M-1.3,0L1.3,0M-1.42,-0.24L-0.78,-0.24L-1.1,0.3ZM0.78,-0.24L1.42,-0.24L1.1,0.3Z",
                "M-1.3,0L1.3,0M-1.4,0A0.3,0.3,0,1,0,-0.8,0A0.3,0.3,0,1,0,-1.4,0ZM0.8,0A0.3,0.3,0,1,0,1.4,0A0.3,0.3,0,1,0,0.8,0Z",
                "M-1.3,0L1.3,0M-1.52,0L-0.68,0M-1.1,-0.42L-1.1,0.42M0.68,0L1.52,0M1.1,-0.42L1.1,0.42",
                "M-1.3,0L1.3,0M-1.1,-0.36L-1.005,-0.131L-0.758,-0.111L-0.946,0.05L-0.888,0.291L-1.1,0.162L-1.312,0.291L-1.254,0.05L-1.442,-0.111L-1.195,-0.131ZM1.1,-0.36L1.195,-0.131L1.442,-0.111L1.254,0.05L1.312,0.291L1.1,0.162L0.888,0.291L0.946,0.05L0.758,-0.111L1.005,-0.131Z",
                "M-1.3,0L1.3,0M-1.4,-0.3L-0.8,0.3M-1.4,0.3L-0.8,-0.3M0.8,-0.3L1.4,0.3M0.8,0.3L1.4,-0.3"]}, "legend": null}
            }
          },
          {"data": {"name": "assort"}, "mark": {"type": "point", "shape": "M-1.1,-0.75L1.1,-0.75L0,1.05Z", "size": 45, "fill": "#d42020", "stroke": "#d42020", "strokeWidth": 1, "opacity": 1},
           "encoding": {"x": {"field": "g", "type": "quantitative", "scale": {"domain": [0, 1000], "nice": false, "zero": false}, "axis": null}, "y": {"field": "s1", "type": "quantitative", "scale": {"domain": [-1, 1], "nice": false, "zero": false}, "axis": null}}},
          {"data": {"name": "assort"}, "mark": {"type": "point", "shape": "circle", "size": 45, "fill": "#1c1ccc", "stroke": "#1c1ccc", "strokeWidth": 0.5, "opacity": 1},
           "encoding": {"x": {"field": "g", "type": "quantitative", "scale": {"domain": [0, 1000], "nice": false, "zero": false}, "axis": null}, "y": {"field": "s2", "type": "quantitative", "scale": {"domain": [-1, 1], "nice": false, "zero": false}, "axis": null}}},
          {"data": {"name": "assort"}, "mark": {"type": "point", "shape": "M-1.4,0L1.4,0M0,-1.4L0,1.4", "size": 45, "fill": "#2fcc2f", "stroke": "#2fcc2f", "strokeWidth": 1.6, "opacity": 1},
           "encoding": {"x": {"field": "g", "type": "quantitative", "scale": {"domain": [0, 1000], "nice": false, "zero": false}, "axis": null}, "y": {"field": "s3", "type": "quantitative", "scale": {"domain": [-1, 1], "nice": false, "zero": false}, "axis": null}}},
          {"data": {"name": "assort"}, "mark": {"type": "point", "shape": "M0,-1.25L0.331,-0.455L1.189,-0.386L0.535,0.174L0.735,1.011L0,0.563L-0.735,1.011L-0.535,0.174L-1.189,-0.386L-0.331,-0.455Z", "size": 45, "fill": "#7d35a8", "stroke": "#7d35a8", "strokeWidth": 1, "opacity": 1},
           "encoding": {"x": {"field": "g", "type": "quantitative", "scale": {"domain": [0, 1000], "nice": false, "zero": false}, "axis": null}, "y": {"field": "s4", "type": "quantitative", "scale": {"domain": [-1, 1], "nice": false, "zero": false}, "axis": null}}},
          {"data": {"name": "assort"}, "mark": {"type": "point", "shape": "M-1.1,-1.1L1.1,1.1M-1.1,1.1L1.1,-1.1", "size": 45, "fill": "#40cfe0", "stroke": "#40cfe0", "strokeWidth": 1.6, "opacity": 1},
           "encoding": {"x": {"field": "g", "type": "quantitative", "scale": {"domain": [0, 1000], "nice": false, "zero": false}, "axis": null}, "y": {"field": "s5", "type": "quantitative", "scale": {"domain": [-1, 1], "nice": false, "zero": false}, "axis": null}}}
        ]
      }
    ]
  }
]
}
